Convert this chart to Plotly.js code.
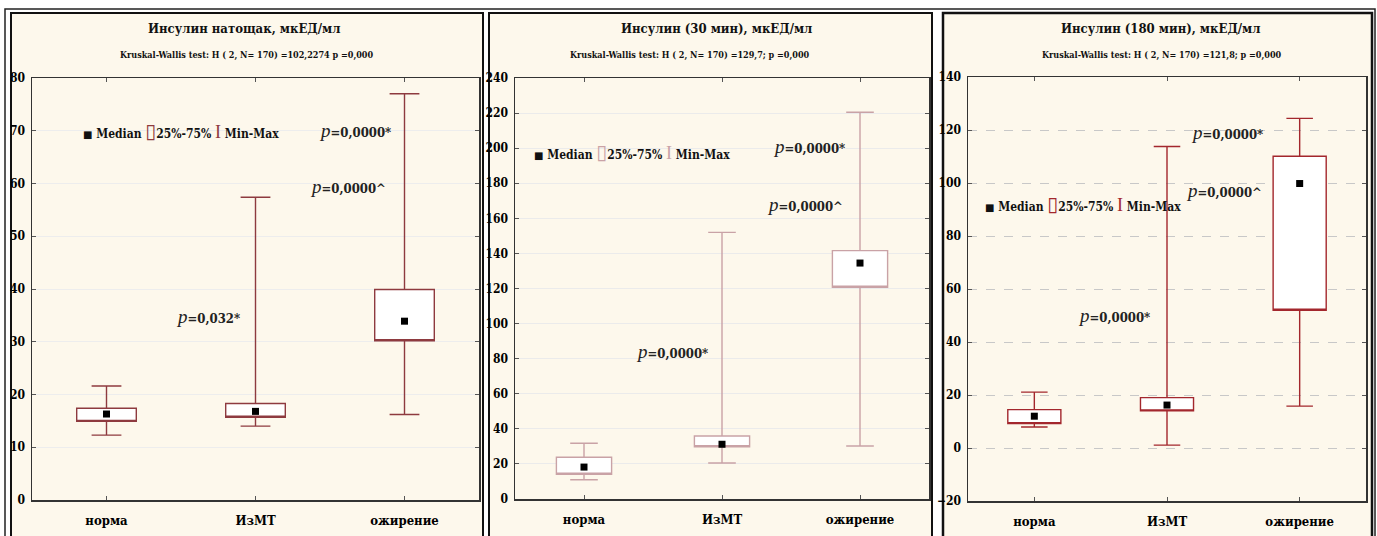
<!DOCTYPE html>
<html><head><meta charset="utf-8">
<script src="https://cdn.plot.ly/plotly-3.0.1.min.js"></script>
<style>html,body{margin:0;padding:0;background:#fff}#chart{width:1377px;height:536px}</style>
</head><body><div id="chart"></div>
<script>
// ---------- data ----------
const categories = ['норма', 'ИзМТ', 'ожирение'];

// Panel 1: Инсулин натощак
const fastMin    = [12.3, 14.0, 16.2];
const fastQ1     = [14.9, 15.7, 30.2];
const fastMedian = [16.3, 16.8, 33.9];
const fastQ3     = [17.4, 18.3, 39.9];
const fastMax    = [21.6, 57.4, 77.0];

// Panel 2: Инсулин (30 мин)
const m30Min    = [11.0, 20.5, 30.2];
const m30Q1     = [14.1, 29.8, 120.7];
const m30Median = [18.2, 31.2, 134.5];
const m30Q3     = [23.8, 35.9, 141.6];
const m30Max    = [31.8, 152.0, 220.5];

// Panel 3: Инсулин (180 мин)
const m180Min    = [7.9, 1.1, 15.8];
const m180Q1     = [9.2, 14.0, 52.0];
const m180Median = [12.0, 16.2, 99.8];
const m180Q3     = [14.5, 19.0, 110.1];
const m180Max    = [21.1, 113.8, 124.4];

const titles = ['Инсулин натощак, мкЕД/мл', 'Инсулин (30 мин), мкЕД/мл', 'Инсулин (180 мин), мкЕД/мл'];
const subtitles = [
  'Kruskal-Wallis test: H ( 2, N= 170) =102,2274 p =0,000',
  'Kruskal-Wallis test: H ( 2, N= 170) =129,7; p =0,000',
  'Kruskal-Wallis test: H ( 2, N= 170) =121,8; p =0,000'
];

// ---------- layout helpers ----------
const W = 1377, H = 536;
const px = x => x / W;
const py = y => 1 - y / H;
const BOLD = 'DejaVu Serif Condensed';
const colors = ['#8e3a3f', '#c9a2a6', '#a3272d'];

const panels = [
  {min: fastMin, q1: fastQ1, med: fastMedian, q3: fastQ3, max: fastMax},
  {min: m30Min, q1: m30Q1, med: m30Median, q3: m30Q3, max: m30Max},
  {min: m180Min, q1: m180Q1, med: m180Median, q3: m180Q3, max: m180Max}
];

const data = [];
panels.forEach((p, i) => {
  const sfx = i === 0 ? '' : String(i + 1);
  data.push({
    type: 'box', x: categories,
    q1: p.q1, median: p.q1 /* median drawn as square marker, not as a line */,
    q3: p.q3, lowerfence: p.min, upperfence: p.max,
    width: 0.4, whiskerwidth: 0.5, boxpoints: false,
    fillcolor: 'rgba(255,255,255,1)',
    line: {color: colors[i], width: 1.4},
    xaxis: 'x' + sfx, yaxis: 'y' + sfx, showlegend: false, hoverinfo: 'skip'
  });
  data.push({
    type: 'scatter', mode: 'markers', x: categories, y: p.med,
    marker: {symbol: 'square', size: 7, color: '#000'},
    xaxis: 'x' + sfx, yaxis: 'y' + sfx, showlegend: false
  });
});

function xax(d0, d1, anchor) {
  return {domain: [px(d0), px(d1)], anchor: anchor, type: 'category', range: [-0.5, 2.5],
    showline: true, mirror: 'ticks', linecolor: '#333', linewidth: 1.5,
    ticks: 'inside', ticklen: 4, tickcolor: '#555', showgrid: false,
    tickfont: {family: BOLD, size: 13, color: '#000', weight: 'bold'}, ticklabelstandoff: 8, fixedrange: true};
}
function yax(b, t, anchor, range, dtick, grid, dash) {
  return {domain: [py(b), py(t)], anchor: anchor, range: range, dtick: dtick,
    showline: true, mirror: 'ticks', linecolor: '#333', linewidth: 1.5,
    ticks: 'inside', ticklen: 4, tickcolor: '#555',
    showgrid: true, gridcolor: grid, griddash: dash, gridwidth: 1, zeroline: false,
    tickfont: {family: BOLD, size: 12, color: '#000', weight: 'bold'}, ticklabelstandoff: 3, fixedrange: true};
}

const shapes = [
  {type: 'rect', xref: 'paper', yref: 'paper', x0: px(5), x1: px(1375), y0: py(545), y1: py(9),
    line: {color: '#222', width: 1.5}, fillcolor: 'rgba(0,0,0,0)', layer: 'below'},
  {type: 'rect', xref: 'paper', yref: 'paper', x0: px(11), x1: px(483), y0: py(545), y1: py(13),
    line: {color: '#111', width: 2}, fillcolor: '#fdf8ec', layer: 'below'},
  {type: 'rect', xref: 'paper', yref: 'paper', x0: px(489), x1: px(932), y0: py(545), y1: py(13),
    line: {color: '#111', width: 2}, fillcolor: '#fdf8ec', layer: 'below'},
  {type: 'rect', xref: 'paper', yref: 'paper', x0: px(943), x1: px(1372), y0: py(545), y1: py(13),
    line: {color: '#111', width: 2.5}, fillcolor: '#fdf8ec', layer: 'below'}
];

const annotations = [];
const titleX = [244, 716, 1160];
const subX = [246, 690, 1162];
titles.forEach((t, i) => {
  annotations.push({xref: 'paper', yref: 'paper', x: px(titleX[i]), y: py(29), text: t, showarrow: false,
    xanchor: 'center', yanchor: 'middle', font: {family: BOLD, size: 13, color: '#111', weight: 'bold'}});
  annotations.push({xref: 'paper', yref: 'paper', x: px(subX[i]), y: py(55), text: subtitles[i], showarrow: false,
    xanchor: 'center', yanchor: 'middle', font: {family: BOLD, size: 9, color: '#111', weight: 'bold'}});
});

function legendText(c) {
  return '<span style="font-family:DejaVu Sans;font-size:10px">■</span> Median ' +
    '<span style="font-family:DejaVu Sans;font-size:20px;color:' + c + ';font-weight:normal">▯</span>25%-75% ' +
    '<span style="font-family:Liberation Serif;font-size:18px;color:' + c + ';font-weight:normal">I</span> Min-Max';
}
const legPos = [{x: -0.17, y: 70, r: ''}, {x: -0.38, y: 198, r: '2'}, {x: -0.39, y: 92, r: '3'}];
legPos.forEach((l, i) => {
  annotations.push({xref: 'x' + l.r, yref: 'y' + l.r, x: l.x, y: l.y, text: legendText(colors[i]),
    showarrow: false, xanchor: 'left', yanchor: 'middle',
    font: {family: BOLD, size: 12, color: '#111', weight: 'bold'}});
});

const pvals = [
  {r: '', x: 1.92, y: 70, t: '=0,0000*'},
  {r: '', x: 1.89, y: 59.5, t: '=0,0000^'},
  {r: '', x: 0.91, y: 34.7, t: '=0,032*'},
  {r: '2', x: 1.905, y: 201, t: '=0,0000*'},
  {r: '2', x: 1.89, y: 168, t: '=0,0000^'},
  {r: '2', x: 0.91, y: 84, t: '=0,0000*'},
  {r: '3', x: 1.74, y: 119, t: '=0,0000*'},
  {r: '3', x: 1.73, y: 97, t: '=0,0000^'},
  {r: '3', x: 0.89, y: 50, t: '=0,0000*'}
];
pvals.forEach(p => {
  annotations.push({xref: 'x' + p.r, yref: 'y' + p.r, x: p.x, y: p.y,
    text: '<i style="font-family:Liberation Serif;font-weight:normal;font-size:19px">p</i>' + p.t,
    showarrow: false, xanchor: 'right', yanchor: 'middle',
    font: {family: BOLD, size: 13, color: '#222', weight: 'bold'}});
});

const layout = {
  width: W, height: H, margin: {l: 0, r: 0, t: 0, b: 0},
  paper_bgcolor: '#ffffff', plot_bgcolor: '#ffffff', showlegend: false,
  xaxis: xax(32, 479, 'y'),
  yaxis: yax(500, 78, 'x', [0, 80], 10, '#ededed', 'solid'),
  xaxis2: xax(515, 929, 'y2'),
  yaxis2: yax(499, 78, 'x2', [0, 240], 20, '#ebebeb', 'solid'),
  xaxis3: xax(968, 1366, 'y3'),
  yaxis3: yax(501, 77, 'x3', [-20, 140], 20, '#c8c8c8', 'dash'),
  shapes: shapes, annotations: annotations
};

Plotly.newPlot('chart', data, layout, {staticPlot: true, displayModeBar: false});
</script>
</body></html>
